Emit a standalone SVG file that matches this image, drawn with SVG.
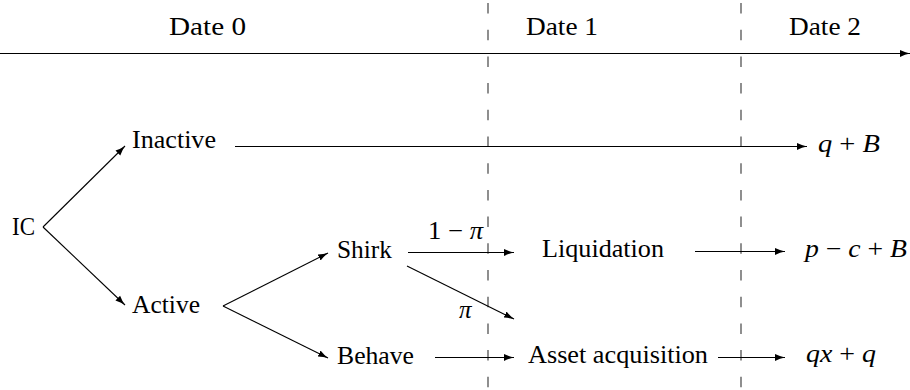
<svg xmlns="http://www.w3.org/2000/svg" width="910" height="390" viewBox="0 0 910 390">
<defs>
<marker id="ah" markerUnits="userSpaceOnUse" markerWidth="11" markerHeight="8" refX="10" refY="4" orient="auto">
<path d="M0,0.6 Q5,3 10,4 Q5,5 0,7.4 z" fill="#000"/>
</marker>
<style>
.t text{font-family:'Liberation Serif','DejaVu Serif','Times New Roman',Times,serif;font-size:25px;fill:#000}
.m{font-style:italic}
.c line{stroke:#000;stroke-width:1.1;fill:none}
.c .a{marker-end:url(#ah)}
.d{stroke:#333;stroke-width:1.1;stroke-dasharray:10.5 16.2;fill:none}
</style>
</defs>
<rect width="910" height="390" fill="#fff"/>
<g id="timeline">
<line class="d" x1="488" y1="3" x2="488" y2="390"/>
<line class="d" x1="741" y1="3" x2="741" y2="390"/>
<g class="t">
<text id="date0" x="169" y="35" textLength="77" lengthAdjust="spacingAndGlyphs">Date 0</text>
<text id="date1" x="526" y="35" textLength="72" lengthAdjust="spacingAndGlyphs">Date 1</text>
<text id="date2" x="789" y="35" textLength="72" lengthAdjust="spacingAndGlyphs">Date 2</text>
</g>
</g>
<g class="c" id="connectors">
<line class="a" x1="0" y1="53.5" x2="910" y2="53.5"/>
<line class="a" x1="43" y1="227" x2="125" y2="146"/>
<line class="a" x1="43" y1="227" x2="125" y2="305"/>
<line class="a" x1="235" y1="146.5" x2="807" y2="146.5"/>
<line class="a" x1="223" y1="306" x2="328" y2="253"/>
<line class="a" x1="223" y1="306" x2="328" y2="358"/>
<line class="a" x1="408" y1="252.5" x2="514" y2="252.5"/>
<line class="a" x1="407" y1="266" x2="514" y2="319"/>
<line class="a" x1="435" y1="357.5" x2="514" y2="357.5"/>
<line class="a" x1="695" y1="251.5" x2="785" y2="251.5"/>
<line class="a" x1="718" y1="357.5" x2="785" y2="357.5"/>
</g>
<g class="t">
<g id="ic"><text x="12" y="235" textLength="23" lengthAdjust="spacingAndGlyphs">IC</text></g>
<g id="inactive"><text x="132" y="148" textLength="84" lengthAdjust="spacingAndGlyphs">Inactive</text></g>
<g id="active"><text x="132" y="313" textLength="68" lengthAdjust="spacingAndGlyphs">Active</text></g>
<g id="shirk"><text x="337" y="258" textLength="55" lengthAdjust="spacingAndGlyphs">Shirk</text></g>
<g id="behave"><text x="337" y="364" textLength="77" lengthAdjust="spacingAndGlyphs">Behave</text></g>
<g id="liquidation"><text x="542" y="257" textLength="122" lengthAdjust="spacingAndGlyphs">Liquidation</text></g>
<g id="asset"><text x="528" y="363" textLength="180" lengthAdjust="spacingAndGlyphs">Asset acquisition</text></g>
<g id="prob1"><text x="428" y="239" textLength="55" lengthAdjust="spacingAndGlyphs">1 − <tspan class="m">π</tspan></text></g>
<g id="prob2"><text x="459" y="318" class="m">π</text></g>
<g id="payoff1"><text x="818" y="152" textLength="62" lengthAdjust="spacingAndGlyphs"><tspan class="m">q</tspan> + <tspan class="m">B</tspan></text></g>
<g id="payoff2"><text x="805" y="257" textLength="102" lengthAdjust="spacingAndGlyphs"><tspan class="m">p</tspan> − <tspan class="m">c</tspan> + <tspan class="m">B</tspan></text></g>
<g id="payoff3"><text x="806" y="362" textLength="70" lengthAdjust="spacingAndGlyphs"><tspan class="m">qx</tspan> + <tspan class="m">q</tspan></text></g>
</g>
</svg>
